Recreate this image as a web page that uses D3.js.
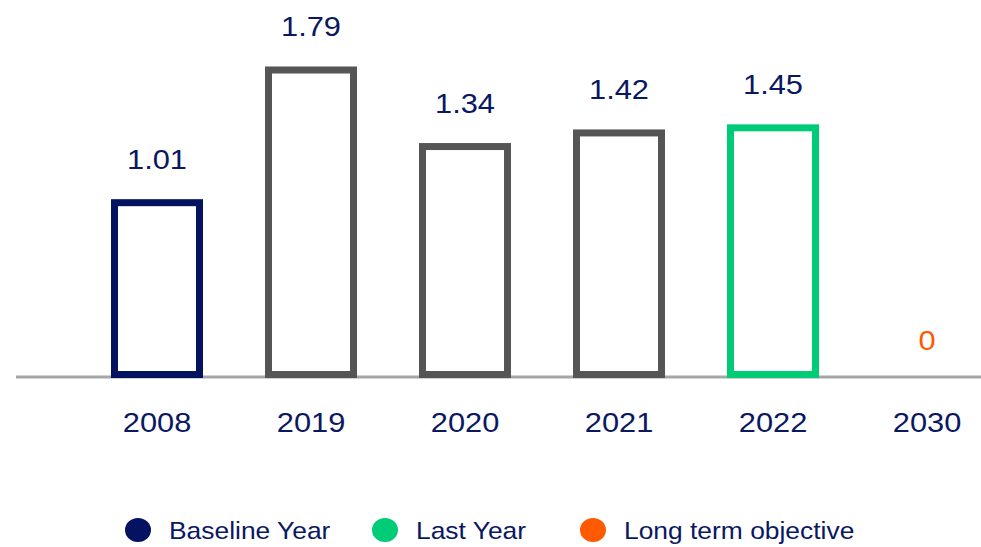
<!DOCTYPE html>
<html>
<head>
<meta charset="utf-8">
<script src="https://cdn.jsdelivr.net/npm/d3@7/dist/d3.min.js"></script>
<style>
  html, body { margin: 0; padding: 0; background: #ffffff; }
  svg { display: block; font-family: "Liberation Sans", Arial, sans-serif; }
</style>
</head>
<body>
<svg id="chart" width="981" height="547"></svg>
<script>
// Emissions per year
const years = ["2008", "2019", "2020", "2021", "2022", "2030"];
const values = [1.01, 1.79, 1.34, 1.42, 1.45, 0];
const kinds = ["baseline", "history", "history", "history", "last", "objective"];

const legendLabels = ["Baseline Year", "Last Year", "Long term objective"];
const legendKinds = ["baseline", "last", "objective"];

const colors = {
  baseline: "#03135f",
  history: "#555555",
  last: "#00cc78",
  objective: "#ff5a00"
};
const textColor = "#0a1862";

const svg = d3.select("#chart");
const W = 981, H = 547;
const stretch = 1.1;

const x = d3.scalePoint().domain(years).range([157, 927]);
const y = d3.scaleLinear().domain([0, 1.79]).range([374.5, 70]);
const barW = 85;

// baseline axis
svg.append("line")
  .attr("x1", 16).attr("x2", W)
  .attr("y1", 377).attr("y2", 377)
  .attr("stroke", "#a6a6a6")
  .attr("stroke-width", 3);

const data = years.map((yr, i) => ({ year: yr, value: values[i], kind: kinds[i] }));

// hollow bars
svg.append("g").selectAll("rect")
  .data(data.filter(d => d.value > 0))
  .join("rect")
  .attr("x", d => x(d.year) - barW / 2)
  .attr("y", d => y(d.value))
  .attr("width", barW)
  .attr("height", d => y(0) - y(d.value))
  .attr("fill", "none")
  .attr("stroke", d => colors[d.kind])
  .attr("stroke-width", 7);

function stretchedText(g, tx, ty, txt, size, fill, anchor) {
  return g.append("text")
    .attr("transform", `translate(${tx},${ty}) scale(${stretch},1)`)
    .attr("text-anchor", anchor)
    .attr("font-size", size)
    .attr("fill", fill)
    .text(txt);
}

// value labels
const vl = svg.append("g");
data.forEach(d => {
  const off = d.value > 0 ? 34 : 25;
  stretchedText(vl, x(d.year), y(d.value) - off,
    d3.format(d.value > 0 ? ".2f" : "d")(d.value), 28,
    d.kind === "objective" ? colors.objective : textColor, "middle");
});

// category labels
const cl = svg.append("g");
years.forEach(yr => stretchedText(cl, x(yr), 432, yr, 28, textColor, "middle"));

// legend
const legendX = [138, 385, 593];
const lg = svg.append("g");
legendLabels.forEach((lab, i) => {
  lg.append("ellipse")
    .attr("cx", legendX[i]).attr("cy", 530)
    .attr("rx", 13).attr("ry", 12)
    .attr("fill", colors[legendKinds[i]]);
  stretchedText(lg, legendX[i] + 31, 539, lab, 24, textColor, "start");
});
</script>
</body>
</html>
